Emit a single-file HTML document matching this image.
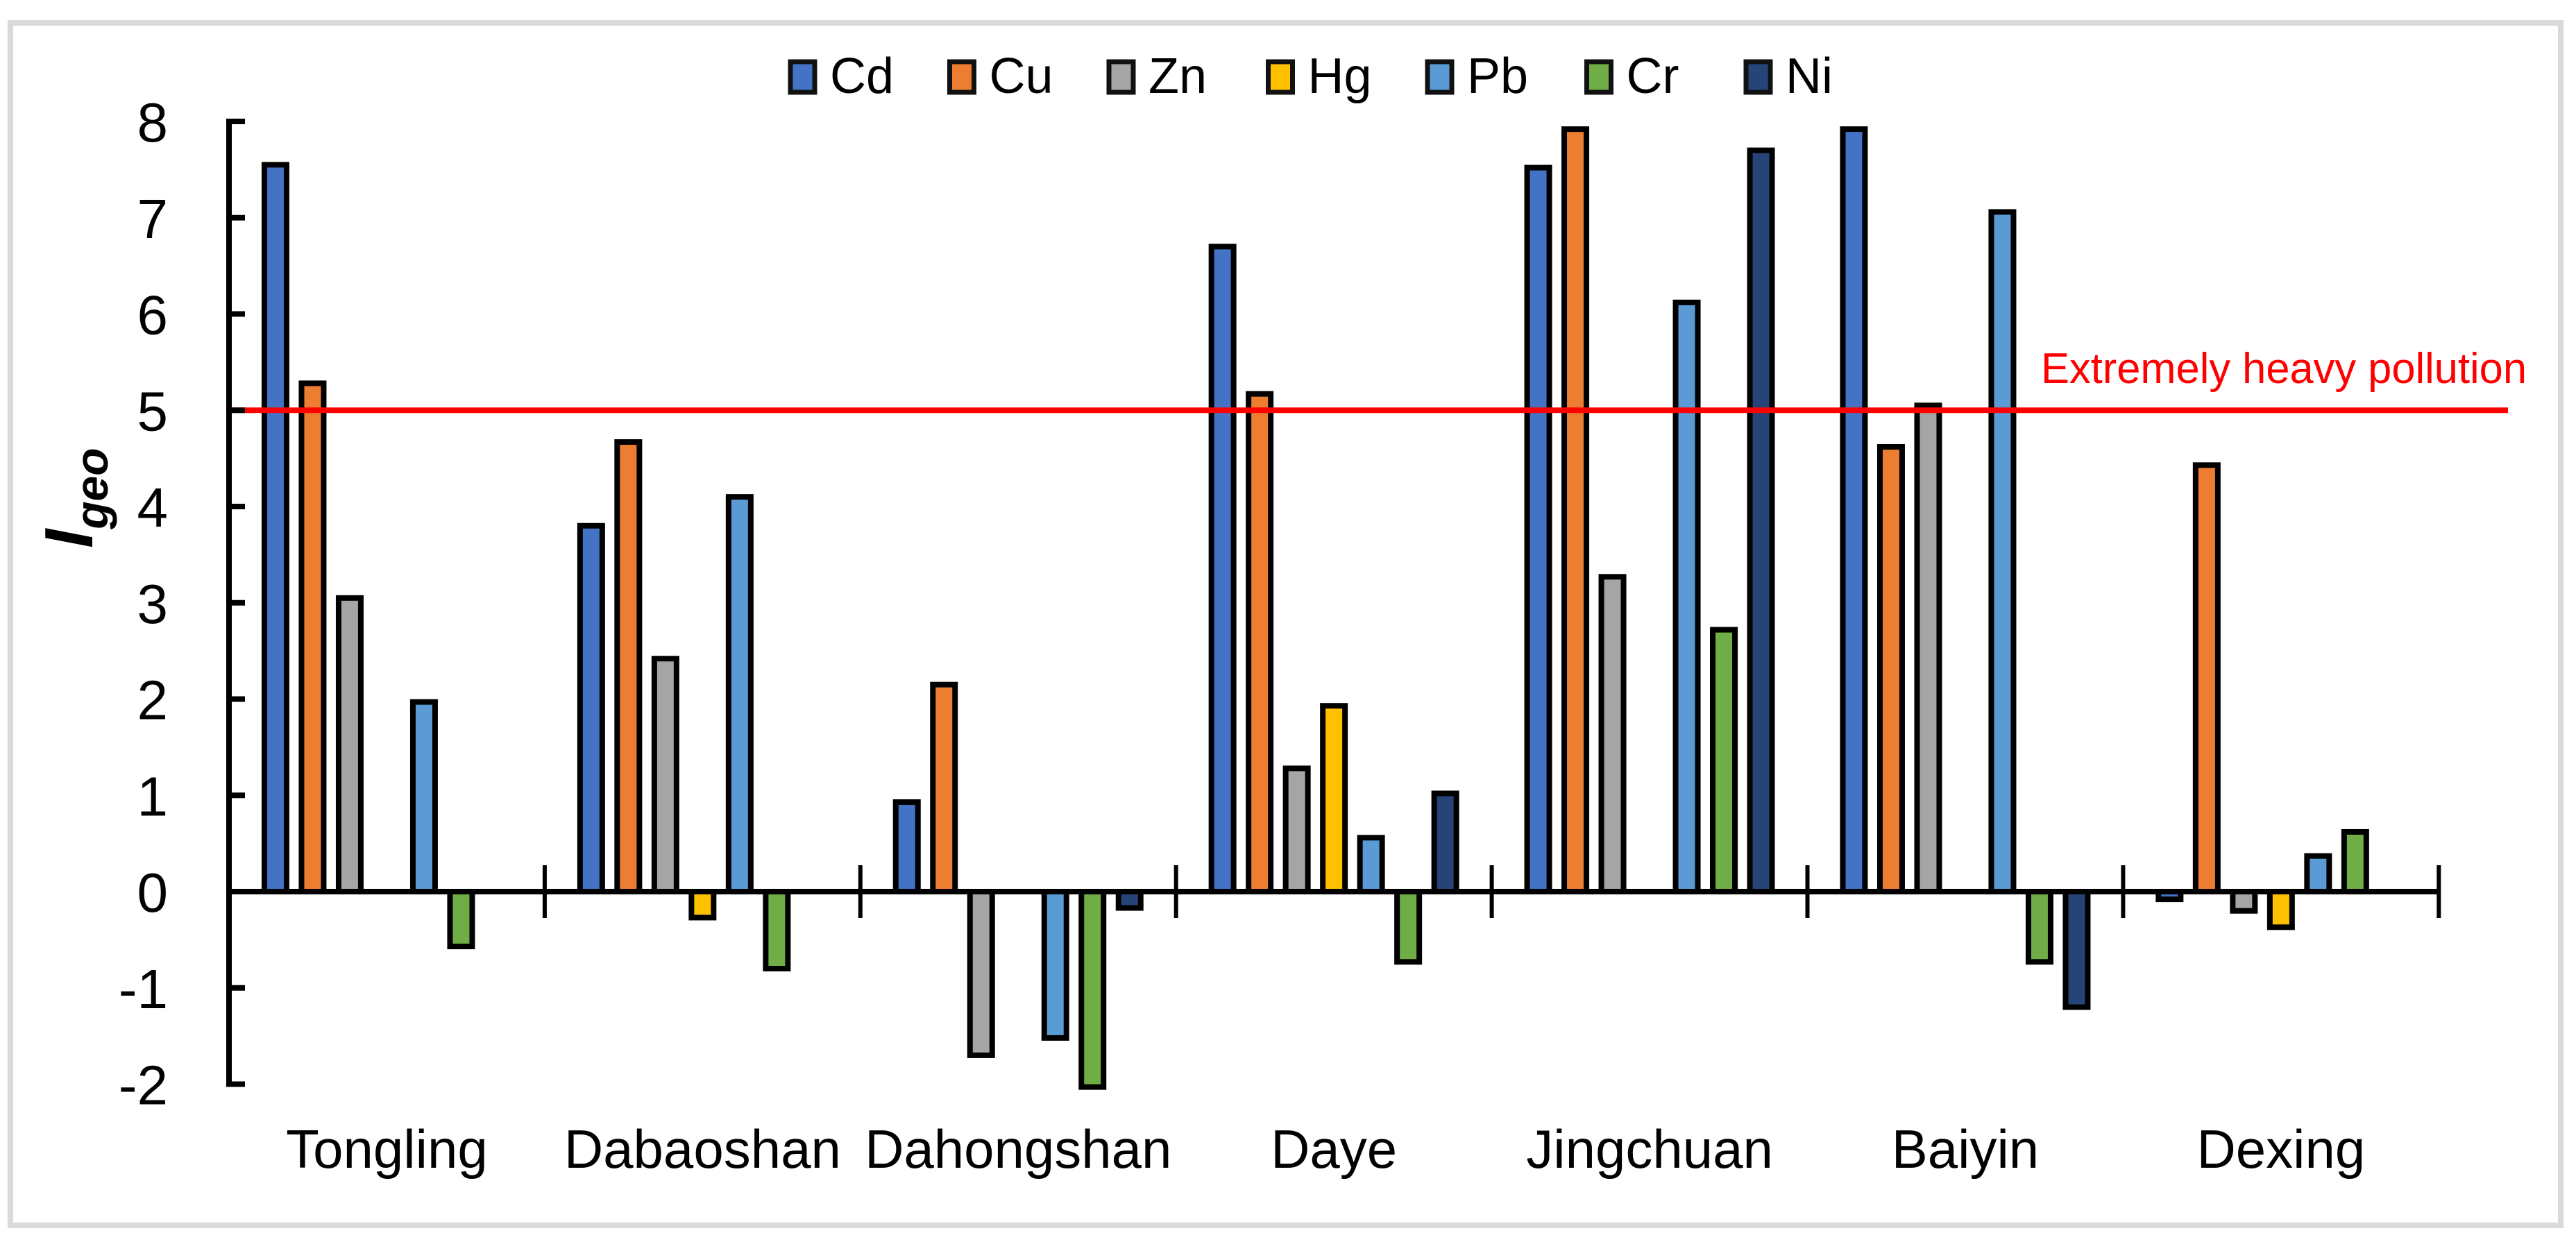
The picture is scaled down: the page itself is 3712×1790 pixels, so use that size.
<!DOCTYPE html>
<html><head><meta charset="utf-8"><style>
html,body{margin:0;padding:0;background:#fff;}
svg{display:block;font-family:"Liberation Sans",Arial,sans-serif;}
</style></head><body>
<svg id="chart" width="3712" height="1790" viewBox="0 0 3712 1790" xmlns="http://www.w3.org/2000/svg">
<rect x="15" y="33" width="3675" height="1733" fill="#fff" stroke="#d9d9d9" stroke-width="8"/>
<g id="bars"></g>
<g id="axes"></g>
<g id="legend"></g>
<text transform="translate(133,790) rotate(-90)" font-size="98" font-style="italic" font-weight="bold" fill="#000">I<tspan font-size="66" dy="22">geo</tspan></text>
</svg>
<script>
const categories = ["Tongling","Dabaoshan","Dahongshan","Daye","Jingchuan","Baiyin","Dexing"];
const seriesNames = ["Cd","Cu","Zn","Hg","Pb","Cr","Ni"];
const seriesColors = ["#4472C4","#ED7D31","#A5A5A5","#FFC000","#5B9BD5","#70AD47","#264478"];
const cd = [7.55, 3.80, 0.93, 6.70, 7.52, 7.92, -0.08];
const cu = [5.28, 4.67, 2.15, 5.17, 7.92, 4.62, 4.43];
const zn = [3.05, 2.42, -1.70, 1.28, 3.27, 5.05, -0.20];
const hg = [null, -0.27, null, 1.93, null, null, -0.37];
const pb = [1.97, 4.10, -1.52, 0.56, 6.12, 7.06, 0.37];
const cr = [-0.57, -0.80, -2.03, -0.73, 2.72, -0.73, 0.62];
const ni = [null, null, -0.17, 1.02, 7.70, -1.20, null];
const yTicks = [-2,-1,0,1,2,3,4,5,6,7,8];
const thresholdValue = 5;
const thresholdLabel = "Extremely heavy pollution";

const NS = "http://www.w3.org/2000/svg";
const x0 = 330, catW = 454.9, barStep = 53.5, barW = 32;
const yZero = 1285, yUnit = 138.75;
function yScale(v){ return yZero - v * yUnit; }
function catCenter(i){ return x0 + catW * (i + 0.5); }
function barCenter(i, s){ return catCenter(i) + (s - 3) * barStep; }
function mk(tag, attrs, parent){ const e = document.createElementNS(NS, tag); for (const k in attrs) e.setAttribute(k, attrs[k]); parent.appendChild(e); return e; }

const allSeries = [cd, cu, zn, hg, pb, cr, ni];
const gb = document.getElementById('bars');
allSeries.forEach((vals, s) => {
  vals.forEach((v, i) => {
    if (v === null) return;
    const top = Math.min(yScale(v), yZero), h = Math.abs(yScale(v) - yZero);
    const r = mk('rect', {x: barCenter(i, s) - barW/2, y: top, width: barW, height: h, fill: seriesColors[s], stroke: '#000', 'stroke-width': 8}, gb);
    
    
  });
});

const ga = document.getElementById('axes');
const tl = mk('line', {x1: x0, x2: 3614, y1: yScale(thresholdValue), y2: yScale(thresholdValue), stroke: '#f00', 'stroke-width': 8}, ga);


const tt = mk('text', {x: 2941, y: 552, 'font-size': 62, fill: '#f00', textLength: 700, lengthAdjust: 'spacingAndGlyphs'}, ga);
tt.textContent = thresholdLabel;


const ya = mk('line', {x1: x0, x2: x0, y1: yScale(8) - 4, y2: yScale(-2) + 4, stroke: '#000', 'stroke-width': 8}, ga);


yTicks.forEach(t => {
  const tk = mk('line', {x1: x0, x2: x0 + 23, y1: yScale(t), y2: yScale(t), stroke: '#000', 'stroke-width': 8}, ga);
  
  
  const lb = mk('text', {x: 242, y: yScale(t) + 29, 'font-size': 80, 'text-anchor': 'end', fill: '#000'}, ga);
  lb.textContent = t;
  
  
});
const xa = mk('line', {x1: x0, x2: x0 + catW * categories.length, y1: yZero, y2: yZero, stroke: '#000', 'stroke-width': 8}, ga);


categories.forEach((c, i) => {
  const xt = x0 + catW * (i + 1);
  const tk = mk('line', {x1: xt, x2: xt, y1: yZero - 38, y2: yZero + 38, stroke: '#000', 'stroke-width': 6}, ga);
  
  
  const lb = mk('text', {x: catCenter(i), y: 1683, 'font-size': 78, 'text-anchor': 'middle', fill: '#000'}, ga);
  lb.textContent = c;
  
  
});

const gl = document.getElementById('legend');
seriesNames.forEach((n, s) => {
  const lx = 1136 + s * 229.5;
  const g = mk('g', {}, gl);
  
  
  mk('rect', {x: lx + 3, y: 89, width: 35, height: 44, fill: seriesColors[s], stroke: '#111', 'stroke-width': 7}, g);
  const t = mk('text', {x: lx + 60, y: 134, 'font-size': 72, fill: '#000'}, g);
  t.textContent = n;
});
</script>
</body></html>
